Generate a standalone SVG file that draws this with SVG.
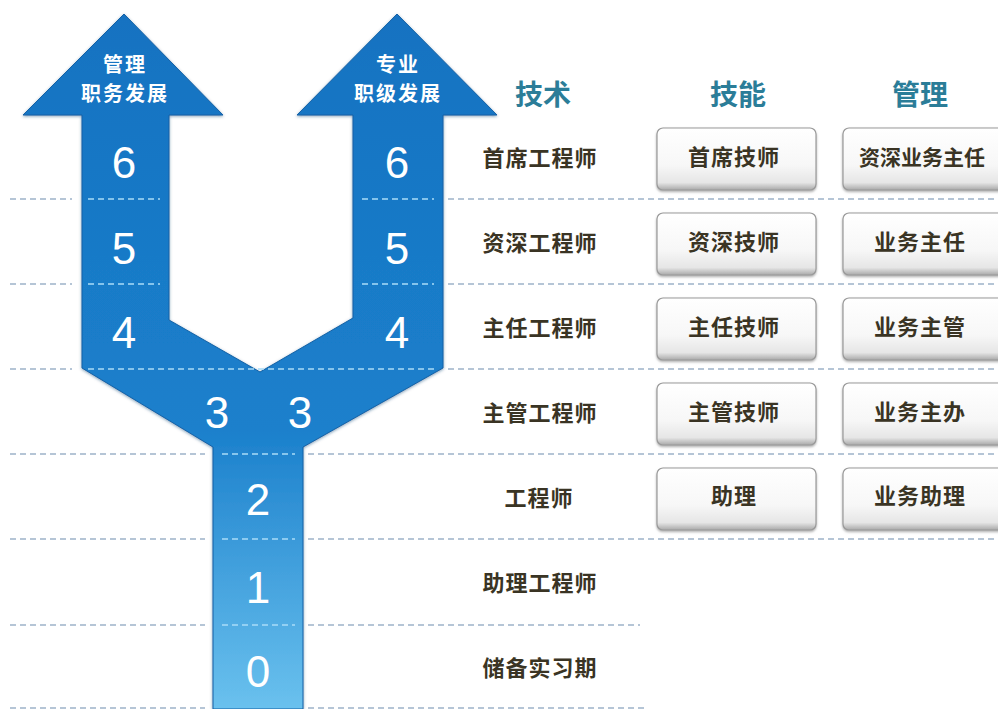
<svg xmlns="http://www.w3.org/2000/svg" width="998" height="709" viewBox="0 0 998 709">
<defs>
<linearGradient id="arrowGrad" gradientUnits="userSpaceOnUse" x1="0" y1="14" x2="0" y2="709">
<stop offset="0" stop-color="#1672c1"/>
<stop offset="0.6" stop-color="#1b80cc"/>
<stop offset="1" stop-color="#6ac1ee"/>
</linearGradient>
<linearGradient id="boxGrad" x1="0" y1="0" x2="0" y2="1">
<stop offset="0" stop-color="#ffffff"/>
<stop offset="0.6" stop-color="#f7f7f7"/>
<stop offset="0.88" stop-color="#e6e6e6"/>
<stop offset="1" stop-color="#a9a9a9"/>
</linearGradient>
<filter id="boxShadow" x="-10%" y="-10%" width="120%" height="130%">
<feDropShadow dx="0" dy="1.5" stdDeviation="1.2" flood-color="#777" flood-opacity="0.6"/>
</filter>
<filter id="arrowShadow" x="-5%" y="-5%" width="110%" height="110%">
<feDropShadow dx="0" dy="1" stdDeviation="1.5" flood-color="#0a3f70" flood-opacity="0.5"/>
</filter>
</defs>
<style>
.dash{stroke:#9db3c9;stroke-width:1.5;stroke-dasharray:6 4;fill:none}
.idash{stroke:#a9dcf7;stroke-width:1.5;stroke-dasharray:6 4;fill:none}
.num{font-family:"Liberation Sans",Arial,sans-serif;font-size:44px;fill:#ffffff;text-anchor:middle}
.alab{font-family:"Noto Sans CJK SC",sans-serif;font-size:20px;font-weight:bold;fill:#ffffff;text-anchor:middle;letter-spacing:2px}
.head{font-family:"Noto Sans CJK SC",sans-serif;font-size:28px;font-weight:bold;fill:#2b7d98;text-anchor:middle}
.row{font-family:"Noto Sans CJK SC",sans-serif;font-size:22px;font-weight:bold;fill:#3a3424;text-anchor:middle;letter-spacing:1px}
.box rect{fill:url(#boxGrad);stroke:#9a9a9a;stroke-width:1.2;filter:url(#boxShadow)}
.box text{font-family:"Noto Sans CJK SC",sans-serif;font-size:22px;font-weight:bold;fill:#3a3424;text-anchor:middle;letter-spacing:1px}
</style>
<rect width="998" height="709" fill="#ffffff"/>

<g id="arrow">
<path d="M124 14 L223 115 L169 115 L169 320 L260 372 L353 318 L353 115 L297 115 L397 14 L497 115 L443 115 L443 368 L303 447 L303 709 L213 709 L213 447 L82 368 L82 115 L23 115 Z" fill="url(#arrowGrad)" stroke="#1361a6" stroke-width="1" filter="url(#arrowShadow)"/>
<text class="alab" x="125" y="72">管理</text>
<text class="alab" x="125" y="101">职务发展</text>
<text class="alab" x="398" y="72">专业</text>
<text class="alab" x="398" y="101">职级发展</text>
</g>

<g id="connectors">
<path class="dash" d="M10 199 H72 M448 199 H998 M10 284 H72 M448 284 H998 M10 369 H72 M448 369 H998 M10 454 H205 M308 454 H998 M10 539 H205 M308 539 H998 M10 625 H205 M308 625 H640 M10 708 H205 M308 708 H645"/>
<path class="idash" d="M88 199 H160 M362 199 H434 M88 284 H160 M362 284 H434 M88 369 H435 M222 454 H295 M222 539 H295 M222 625 H295"/>
</g>

<g id="levels">
<text class="num" x="124" y="178">6</text>
<text class="num" x="124" y="264">5</text>
<text class="num" x="124" y="348">4</text>
<text class="num" x="397" y="178">6</text>
<text class="num" x="397" y="264">5</text>
<text class="num" x="397" y="348">4</text>
<text class="num" x="217" y="428">3</text>
<text class="num" x="300" y="428">3</text>
<text class="num" x="258" y="515">2</text>
<text class="num" x="258" y="603">1</text>
<text class="num" x="258" y="687">0</text>
</g>

<g id="headers">
<text class="head" x="543" y="105">技术</text>
<text class="head" x="738" y="105">技能</text>
<text class="head" x="920" y="105">管理</text>
</g>

<g id="tech">
<text class="row" x="540" y="166">首席工程师</text>
<text class="row" x="540" y="251">资深工程师</text>
<text class="row" x="540" y="336">主任工程师</text>
<text class="row" x="540" y="421">主管工程师</text>
<text class="row" x="539" y="506">工程师</text>
<text class="row" x="540" y="591">助理工程师</text>
<text class="row" x="540" y="676">储备实习期</text>
</g>

<g id="skill-6" class="box"><rect x="657" y="128" width="159" height="62" rx="6"/><text x="734" y="165">首席技师</text></g>
<g id="skill-5" class="box"><rect x="657" y="213" width="159" height="62" rx="6"/><text x="734" y="250">资深技师</text></g>
<g id="skill-4" class="box"><rect x="657" y="298" width="159" height="62" rx="6"/><text x="734" y="335">主任技师</text></g>
<g id="skill-3" class="box"><rect x="657" y="383" width="159" height="62" rx="6"/><text x="734" y="420">主管技师</text></g>
<g id="skill-2" class="box"><rect x="657" y="468" width="159" height="62" rx="6"/><text x="734" y="504">助理</text></g>

<g id="mgmt-6" class="box"><rect x="843" y="128" width="165" height="62" rx="6"/><text x="922" y="165" style="font-size:21px;letter-spacing:0">资深业务主任</text></g>
<g id="mgmt-5" class="box"><rect x="843" y="213" width="165" height="62" rx="6"/><text x="920" y="250">业务主任</text></g>
<g id="mgmt-4" class="box"><rect x="843" y="298" width="165" height="62" rx="6"/><text x="920" y="335">业务主管</text></g>
<g id="mgmt-3" class="box"><rect x="843" y="383" width="165" height="62" rx="6"/><text x="920" y="420">业务主办</text></g>
<g id="mgmt-2" class="box"><rect x="843" y="468" width="165" height="62" rx="6"/><text x="920" y="504">业务助理</text></g>
</svg>
